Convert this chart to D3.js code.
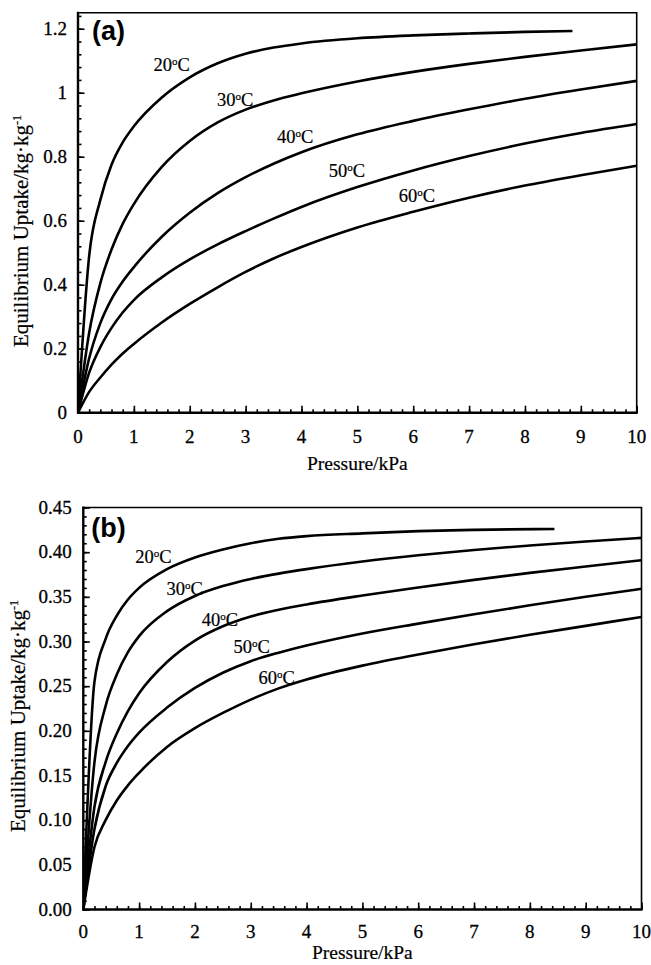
<!DOCTYPE html>
<html>
<head>
<meta charset="utf-8">
<script src="https://cdn.jsdelivr.net/npm/d3@7"></script>
<style>
  body { margin: 0; background: #fff; }
</style>
</head>
<body>
<svg id="chart" width="651" height="965"></svg>
<script>
// Isotherm labels (°C)
const temperatures = ["20", "30", "40", "50", "60"];

// Axis ticks
const pressureTicks = [0, 1, 2, 3, 4, 5, 6, 7, 8, 9, 10];
const uptakeTicksA = [0, 0.2, 0.4, 0.6, 0.8, 1.0, 1.2];
const uptakeTicksB = [0, 0.05, 0.10, 0.15, 0.20, 0.25, 0.30, 0.35, 0.40, 0.45];

// Pressure grid (kPa) shared by the isotherm tables below
const pressures = [0, 0.2, 0.4, 0.6, 0.8, 1.0, 1.5, 2.0, 2.5, 3.0, 3.5, 4.0, 5.0, 6.0, 7.0, 8.0, 9.0, 10.0];

// Panel (a) uptake, kg/kg, at each pressure (20 °C stops at 8.85 kPa)
const uptakeA20 = [0, 0.49, 0.665, 0.775, 0.845, 0.895, 0.985, 1.048, 1.092, 1.122, 1.141, 1.154, 1.170, 1.179, 1.185, 1.190];
const endA20 = [8.85, 1.193];
const uptakeA30 = [0, 0.25, 0.405, 0.51, 0.59, 0.652, 0.768, 0.849, 0.907, 0.947, 0.976, 0.998, 1.035, 1.065, 1.09, 1.112, 1.132, 1.151];
const uptakeA40 = [0, 0.17, 0.28, 0.355, 0.41, 0.455, 0.55, 0.625, 0.686, 0.736, 0.778, 0.814, 0.87, 0.912, 0.948, 0.981, 1.01, 1.037];
const uptakeA50 = [0, 0.125, 0.205, 0.265, 0.313, 0.352, 0.423, 0.479, 0.526, 0.5675, 0.6065, 0.643, 0.705, 0.757, 0.802, 0.841, 0.874, 0.902];
const uptakeA60 = [0, 0.065, 0.11, 0.15, 0.185, 0.215, 0.282, 0.34, 0.392, 0.44, 0.482, 0.518, 0.579, 0.628, 0.672, 0.71, 0.742, 0.772];

// Panel (b) uptake, kg/kg, at each pressure (20 °C stops at 8.44 kPa)
const uptakeB20 = [0, 0.255, 0.303, 0.329, 0.347, 0.36, 0.381, 0.394, 0.403, 0.41, 0.415, 0.418, 0.421, 0.4235, 0.425];
const endB20 = [8.44, 0.426];
const uptakeB30 = [0, 0.165, 0.228, 0.263, 0.288, 0.306, 0.334, 0.351, 0.362, 0.37, 0.376, 0.381, 0.3895, 0.3965, 0.4025, 0.4075, 0.412, 0.416];
const uptakeB40 = [0, 0.115, 0.165, 0.197, 0.222, 0.242, 0.277, 0.301, 0.317, 0.328, 0.3355, 0.3415, 0.3515, 0.3605, 0.369, 0.3768, 0.384, 0.391];
const uptakeB50 = [0, 0.09, 0.138, 0.164, 0.183, 0.198, 0.226, 0.248, 0.265, 0.278, 0.2875, 0.2955, 0.309, 0.32, 0.3305, 0.3405, 0.35, 0.359];
const uptakeB60 = [0, 0.07, 0.1, 0.122, 0.139, 0.153, 0.182, 0.203, 0.22, 0.235, 0.2475, 0.2575, 0.273, 0.2855, 0.297, 0.3075, 0.3175, 0.3275];

// Where each temperature label sits, in data units [pressure, uptake]
const labelPosA = [[1.35, 1.068], [2.49, 0.957], [3.56, 0.843], [4.49, 0.738], [5.74, 0.66]];
const labelPosB = [[0.93, 0.388], [1.49, 0.3525], [2.12, 0.317], [2.69, 0.2869], [3.14, 0.2527]];

const SERIF = "'Liberation Serif', 'Times New Roman', Times, serif";
const SANS = "'Liberation Sans', Arial, Helvetica, sans-serif";

// pair the pressure grid with an uptake column, optionally appending an end point
function series(uptake, end) {
  const pts = uptake.map((q, i) => [pressures[i], q]);
  if (end) pts.push(end);
  return pts;
}

const svg = d3.select("#chart");

function drawPanel(cfg) {
  const x = d3.scaleLinear().domain([0, 10]).range([cfg.left, cfg.right]);
  const y = d3.scaleLinear().domain([0, cfg.yMax]).range([cfg.bottom, cfg.top]);
  const g = svg.append("g").attr("font-family", SERIF);

  const clipId = "clip-" + cfg.tag;
  g.append("clipPath").attr("id", clipId).append("rect")
    .attr("x", cfg.left).attr("y", cfg.top - 2)
    .attr("width", cfg.right - cfg.left).attr("height", cfg.bottom - cfg.top + 2);

  // frame: top and right edges
  g.append("path")
    .attr("d", `M${cfg.left},${cfg.top}H${cfg.right}V${cfg.bottom}`)
    .attr("fill", "none").attr("stroke", "#000").attr("stroke-width", 1.6);

  // x axis: minor ticks every 0.2, majors every 1, pointing inward
  const xMinor = d3.range(0, 10.001, 0.2);
  const xAxisMinor = d3.axisTop(x).tickValues(xMinor).tickSize(3.5).tickFormat("");
  const xAxisMajor = d3.axisTop(x).tickValues(pressureTicks).tickSize(7).tickFormat("");
  [xAxisMinor, xAxisMajor].forEach(ax => {
    const a = g.append("g").attr("transform", `translate(0,${cfg.bottom})`).call(ax);
    a.select(".domain").remove();
    a.selectAll("line").attr("stroke", "#000").attr("stroke-width", 1.6);
  });
  g.append("line").attr("x1", cfg.left - 1).attr("x2", cfg.right + 1)
    .attr("y1", cfg.bottom).attr("y2", cfg.bottom)
    .attr("stroke", "#000").attr("stroke-width", 2.4);
  g.selectAll(".xlab").data(pressureTicks).enter().append("text")
    .attr("font-family", SERIF)
    .attr("x", d => x(d)).attr("y", cfg.bottom + cfg.xLabelDy)
    .attr("text-anchor", "middle").attr("font-size", 19)
    .attr("stroke", "#000").attr("stroke-width", 0.3).text(d => d);

  // y axis: minors + majors, pointing inward
  const yMinor = d3.range(0, cfg.yMax + 1e-9, cfg.yMinorStep);
  const yAxisMinor = d3.axisRight(y).tickValues(yMinor).tickSize(3.5).tickFormat("");
  const yAxisMajor = d3.axisRight(y).tickValues(cfg.yTicks).tickSize(6.5).tickFormat("");
  [yAxisMinor, yAxisMajor].forEach(ax => {
    const a = g.append("g").attr("transform", `translate(${cfg.left},0)`).call(ax);
    a.select(".domain").remove();
    a.selectAll("line").attr("stroke", "#000").attr("stroke-width", 1.6);
  });
  g.append("line").attr("x1", cfg.left).attr("x2", cfg.left)
    .attr("y1", cfg.top - 1).attr("y2", cfg.bottom + 1)
    .attr("stroke", "#000").attr("stroke-width", 2.4);
  g.selectAll(".ylab").data(cfg.yTicks).enter().append("text")
    .attr("font-family", SERIF)
    .attr("x", cfg.left - cfg.yLabelGap).attr("y", d => y(d) + 6.3)
    .attr("text-anchor", "end").attr("font-size", 19)
    .attr("stroke", "#000").attr("stroke-width", 0.3).text(cfg.yFormat);

  // axis titles
  g.append("text").attr("font-family", SERIF)
    .attr("x", (cfg.left + cfg.right) / 2).attr("y", cfg.bottom + cfg.xTitleDy)
    .attr("text-anchor", "middle").attr("font-size", 19.5)
    .attr("stroke", "#000").attr("stroke-width", 0.2).text("Pressure/kPa");
  const yt = g.append("text").attr("font-family", SERIF)
    .attr("transform", `translate(${cfg.yTitleX},${cfg.yTitleY}) rotate(-90)`)
    .attr("text-anchor", "middle").attr("font-size", cfg.yTitleSize)
    .attr("stroke", "#000").attr("stroke-width", 0.2);
  yt.append("tspan").text("Equilibrium Uptake/kg\u00b7kg");
  yt.append("tspan").attr("dy", -7).attr("font-size", 12).text("-1");

  // isotherms
  const line = d3.line().x(d => x(d[0])).y(d => y(d[1])).curve(d3.curveMonotoneX);
  g.append("g").attr("clip-path", `url(#${clipId})`)
    .selectAll("path").data(cfg.series).enter().append("path")
    .attr("d", line).attr("fill", "none").attr("stroke", "#000")
    .attr("stroke-width", 2.6).attr("stroke-linejoin", "round");

  // temperature labels
  const tl = g.selectAll(".tlab").data(temperatures).enter().append("text")
    .attr("font-family", SERIF)
    .attr("x", (d, i) => x(cfg.labels[i][0])).attr("y", (d, i) => y(cfg.labels[i][1]))
    .attr("font-size", 18.5).attr("stroke", "#000").attr("stroke-width", 0.2);
  tl.append("tspan").text(d => d);
  tl.append("tspan").attr("dy", -6).attr("font-size", 11).text("o");
  tl.append("tspan").attr("dy", 6).text("C");

  // panel tag
  g.append("text").attr("x", cfg.left + cfg.tagDx).attr("y", cfg.top + cfg.tagDy)
    .attr("font-family", SANS)
    .attr("font-weight", "bold").attr("font-size", 27).text(`(${cfg.tag})`);
}

drawPanel({
  tag: "a", left: 78, right: 636.7, top: 12.7, bottom: 412.7, yMax: 1.25,
  yTicks: uptakeTicksA, yMinorStep: 0.04, yFormat: d => (d === 0 ? "0" : d3.format("~g")(d)),
  yLabelGap: 11, xLabelDy: 30, xTitleDy: 57, yTitleX: 28, yTitleY: 231, yTitleSize: 21,
  series: [series(uptakeA20, endA20), series(uptakeA30), series(uptakeA40), series(uptakeA50), series(uptakeA60)],
  labels: labelPosA, tagDx: 14, tagDy: 27
});

drawPanel({
  tag: "b", left: 83.3, right: 641.5, top: 507.5, bottom: 909.5, yMax: 0.45,
  yTicks: uptakeTicksB, yMinorStep: 0.01, yFormat: d3.format(".2f"),
  yLabelGap: 11.5, xLabelDy: 28, xTitleDy: 49, yTitleX: 25, yTitleY: 716, yTitleSize: 21,
  series: [series(uptakeB20, endB20), series(uptakeB30), series(uptakeB40), series(uptakeB50), series(uptakeB60)],
  labels: labelPosB, tagDx: 8, tagDy: 29
});
</script>
</body>
</html>
